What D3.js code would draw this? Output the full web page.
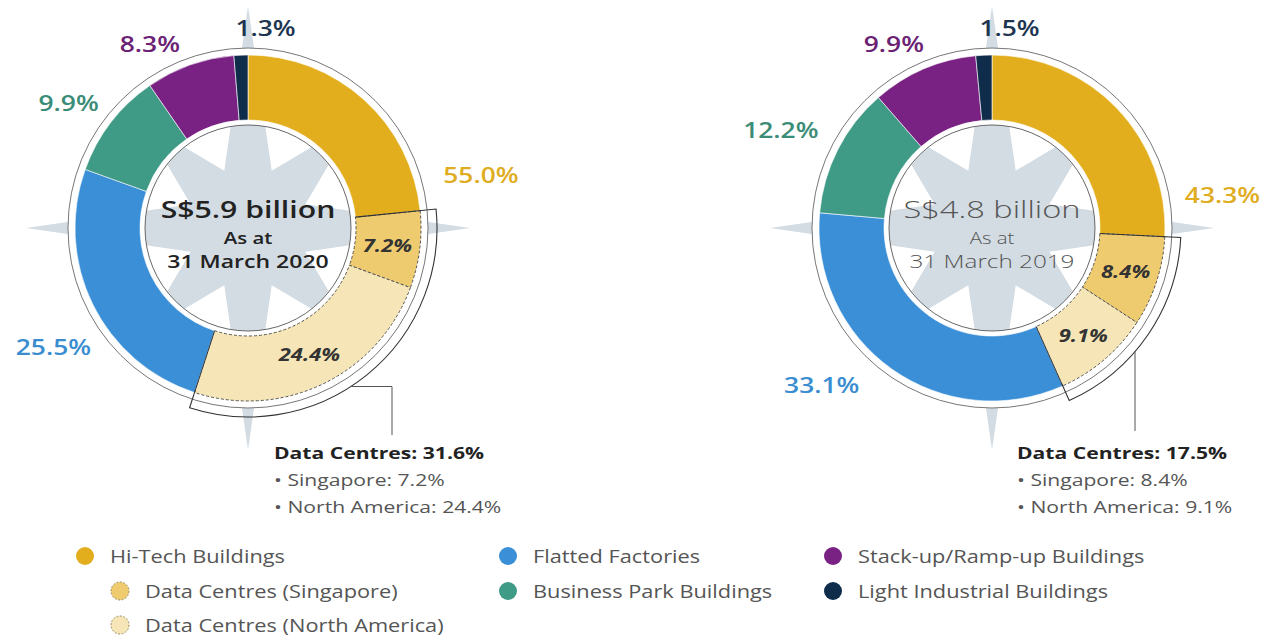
<!DOCTYPE html>
<html>
<head>
<meta charset="utf-8">
<script src="https://cdn.jsdelivr.net/npm/d3@7"></script>
<style>
  body { margin: 0; background: #fff; }
  svg { display: block; font-family: "Open Sans", sans-serif; }
</style>
</head>
<body>
<svg width="1264" height="642"></svg>
<script>
// segments, clockwise from 12 o'clock
segments = ["Hi-Tech Buildings", "Data Centres (Singapore)", "Data Centres (North America)",
    "Flatted Factories", "Business Park Buildings", "Stack-up/Ramp-up Buildings", "Light Industrial Buildings"];

// % of portfolio (hi-tech = part that is not data centres)
values2020 = [23.4, 7.2, 24.4, 25.5, 9.9, 8.3, 1.3];
values2019 = [25.8, 8.4, 9.1, 33.1, 12.2, 9.9, 1.5];

totals = ["S$5.9 billion", "S$4.8 billion"];
dates = ["31 March 2020", "31 March 2019"];

colors = ["#e3ae1d", "#efcb70", "#f6e5b6", "#3b8fd7", "#3f9a86", "#7a2283", "#0f2d4b"];
labelColors = ["#e0ad22", "#333", "#333", "#3a8dd0", "#3b8c77", "#6b2274", "#1d3550"];

// outside label spots [angle deg, radius]
spots = [
    {0: [77, 239], 3: [238.6, 228], 4: [305, 219], 5: [332, 209], 6: [5, 201]},
    {0: [81.6, 233], 3: [227.5, 231], 4: [295, 233], 5: [332, 209], 6: [5, 201]}
];

svg = d3.select('svg');

rIn = 108;
rOut = 173;

polar = (a, r) => [r * Math.sin(a), -r * Math.cos(a)];

// Open Sans is narrower than the original font -> stretch it a bit
place = (t, x, y, sx) => t.attr('transform', `translate(${x}, ${y}) scale(${sx}, 1)`);

// 8 point compass star behind each donut
starPath = () => {
    pts = [];
    for(i = 0; i < 16; i++) {
        a = i * Math.PI / 8;
        r = (i % 4 == 0) ? 222 : (i % 2 == 0 ? 150 : 62);
        pts.push(polar(a, r));
    }
    return d3.line()(pts) + 'Z';
};

pie = d3.pie().sort(null).value((d) => d);
arc = d3.arc().innerRadius(rIn).outerRadius(rOut);

function drawDonut(cx, cy, values, idx) {
    g = svg.append('g').attr('transform', `translate(${cx}, ${cy})`);

    g.append('path')
        .attr('d', starPath())
        .attr('fill', '#d3dce3');

    // white ring + thin outlines
    g.append('path')
        .attr('d', d3.arc().innerRadius(103).outerRadius(180)({startAngle: 0, endAngle: 2 * Math.PI}))
        .attr('fill', '#fff');
    g.append('circle').attr('r', 180).attr('fill', 'none').attr('stroke', '#777').attr('stroke-width', 1);
    g.append('circle').attr('r', 103).attr('fill', 'none').attr('stroke', '#666').attr('stroke-width', 1);

    arcs = pie(values);

    g.selectAll('.slice')
        .data(arcs)
        .enter()
        .append('path')
        .attr('class', 'slice')
        .attr('d', arc)
        .attr('fill', (d, i) => colors[i])
        .attr('stroke', (d, i) => (i == 1 || i == 2) ? '#555' : '#fff')
        .attr('stroke-width', (d, i) => (i == 1 || i == 2) ? 1 : 0.6)
        .attr('stroke-dasharray', (d, i) => (i == 1 || i == 2) ? '3,2' : null);

    // bracket round the data centres
    a0 = arcs[1].startAngle;
    a1 = arcs[2].endAngle;
    p = d3.path();
    s = polar(a0, rIn);
    p.moveTo(s[0], s[1]);
    s = polar(a0, 189);
    p.lineTo(s[0], s[1]);
    p.arc(0, 0, 189, a0 - Math.PI / 2, a1 - Math.PI / 2);
    s = polar(a1, rOut - 2);
    p.lineTo(s[0], s[1]);
    g.append('path')
        .attr('d', p.toString())
        .attr('fill', 'none')
        .attr('stroke', '#333')
        .attr('stroke-width', 1.1);
    s = polar(a1, rIn);
    e = polar(a1, rOut);
    g.append('line')
        .attr('x1', s[0]).attr('y1', s[1]).attr('x2', e[0]).attr('y2', e[1])
        .attr('stroke', '#333').attr('stroke-width', 1);

    // labels
    hiTech = values[0] + values[1] + values[2];
    dc = values[1] + values[2];
    texts = [hiTech, values[1], values[2], values[3], values[4], values[5], values[6]];
    arcs.forEach((d, i) => {
        if(i == 1 || i == 2) {
            c = arc.centroid(d);
            t = g.append('text')
                .attr('text-anchor', 'middle')
                .attr('dominant-baseline', 'central')
                .attr('font-size', 18)
                .attr('font-weight', 700)
                .attr('font-style', 'italic')
                .attr('fill', '#333')
                .text(texts[i].toFixed(1) + '%');
            place(t, c[0], c[1], 1.22);
        } else {
            sp = spots[idx][i];
            c = polar(sp[0] * Math.PI / 180, sp[1]);
            t = g.append('text')
                .attr('text-anchor', 'middle')
                .attr('dominant-baseline', 'central')
                .attr('font-size', 22)
                .attr('font-weight', 600)
                .attr('fill', labelColors[i])
                .text(texts[i].toFixed(1) + '%');
            place(t, c[0], c[1], 1.2);
        }
    });

    // centre text
    w = idx == 0 ? 600 : 300;
    col = idx == 0 ? '#222' : '#555';
    t = g.append('text').attr('text-anchor', 'middle')
        .attr('font-size', 24).attr('font-weight', w).attr('fill', col)
        .text(totals[idx]);
    place(t, 0, -10, idx == 0 ? 1.26 : 1.36);
    t = g.append('text').attr('text-anchor', 'middle')
        .attr('font-size', 17).attr('font-weight', w).attr('fill', col)
        .text('As at');
    place(t, 0, 16, 1.2);
    t = g.append('text').attr('text-anchor', 'middle')
        .attr('font-size', 18).attr('font-weight', w).attr('fill', col)
        .text(dates[idx]);
    place(t, 0, 40, idx == 0 ? 1.28 : 1.35);

    // leader + note
    lx = idx == 0 ? 144 : 143;
    if(idx == 0) {
        s = polar(147 * Math.PI / 180, 189);
        g.append('path')
            .attr('d', `M${s[0]},${s[1]}H${lx}V${207}`)
            .attr('fill', 'none').attr('stroke', '#555').attr('stroke-width', 1);
    } else {
        ang = Math.PI - Math.asin(lx / 189);
        s = polar(ang, 189);
        g.append('path')
            .attr('d', `M${s[0]},${s[1]}V${203}`)
            .attr('fill', 'none').attr('stroke', '#555').attr('stroke-width', 1);
    }
    note = g.append('text').attr('font-size', 16.5).attr('fill', '#555');
    place(note, lx - 118, 231, 1.28);
    note.append('tspan').attr('x', 0).attr('font-weight', 700).attr('fill', '#222')
        .text('Data Centres: ' + dc.toFixed(1) + '%');
    note.append('tspan').attr('x', 0).attr('dy', 27)
        .text('• Singapore: ' + values[1].toFixed(1) + '%');
    note.append('tspan').attr('x', 0).attr('dy', 27)
        .text('• North America: ' + values[2].toFixed(1) + '%');
}

drawDonut(248, 228, values2020, 0);
drawDonut(992, 228, values2019, 1);

// legend
legendCols = [0, 0, 0, 1, 1, 2, 2];
legendRows = [0, 1, 2, 0, 1, 0, 1];
colX = [85, 508, 833];
rowY = [556, 591, 625];

legend = svg.append('g');
segments.forEach((name, i) => {
    x = colX[legendCols[i]] + ((i == 1 || i == 2) ? 35 : 0);
    y = rowY[legendRows[i]];
    legend.append('circle')
        .attr('cx', x).attr('cy', y).attr('r', 9)
        .attr('fill', colors[i])
        .attr('stroke', (i == 1 || i == 2) ? '#9a8a5a' : 'none')
        .attr('stroke-dasharray', '2,1.5');
    t = legend.append('text')
        .attr('dominant-baseline', 'central')
        .attr('font-size', 18)
        .attr('fill', '#555')
        .text(name);
    place(t, x + 25, y, 1.21);
});
</script>
</body>
</html>
